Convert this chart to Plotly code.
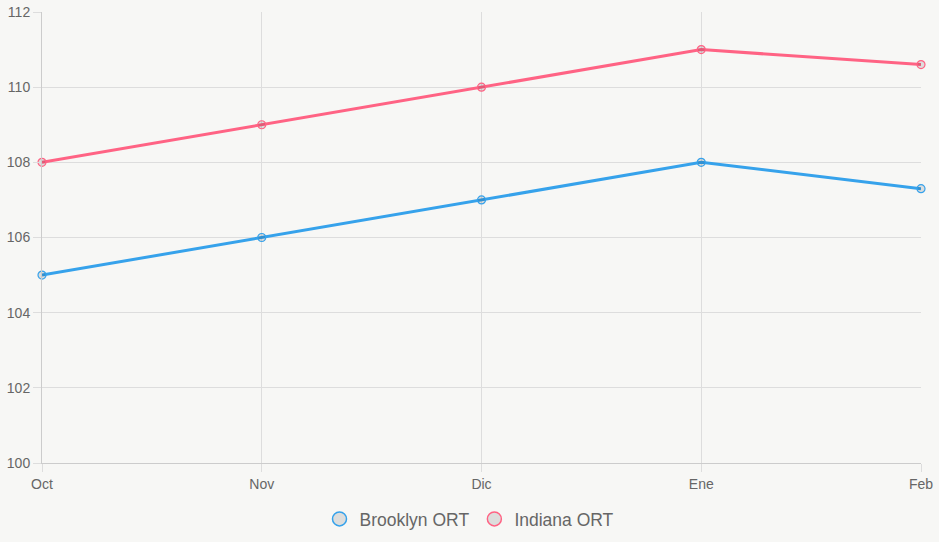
import plotly.graph_objects as go

months = ["Oct", "Nov", "Dic", "Ene", "Feb"]
brooklyn = [105, 106, 107, 108, 107.3]
indiana = [108, 109, 110, 111, 110.6]
series_names = ["Brooklyn ORT", "Indiana ORT"]
colors = ["#36a2eb", "#ff6384"]
y_ticks = [100, 102, 104, 106, 108, 110, 112]

bg = "#f7f7f5"
fig = go.Figure()
for name, vals, c in zip(series_names, [brooklyn, indiana], colors):
    fig.add_trace(go.Scatter(
        x=months, y=vals, mode="lines+markers", name=name, showlegend=False,
        line=dict(color=c, width=3),
        marker=dict(size=8, color="rgba(0,0,0,0.1)", line=dict(color=c, width=1.2)),
        hoverinfo="x+y+name", cliponaxis=False,
    ))
for name, c in zip(series_names, colors):
    fig.add_trace(go.Scatter(
        x=[None], y=[None], mode="markers", name=name,
        marker=dict(size=14, color="rgba(0,0,0,0.1)", line=dict(color=c, width=1.5)),
    ))

fig.update_layout(
    width=939, height=542,
    margin=dict(l=42, r=18, t=12, b=79, autoexpand=False),
    paper_bgcolor=bg, plot_bgcolor=bg,
    font=dict(family="Liberation Sans, Arial, sans-serif", color="#666", size=14),
    legend=dict(orientation="h", xref="container", yref="container",
                x=0.5, xanchor="center", y=1 - 519/542, yanchor="middle",
                font=dict(size=17.5, color="#666"), itemwidth=30, tracegroupgap=0),
    xaxis=dict(
        type="category", range=[0, len(months) - 1], automargin=False,
        showgrid=True, gridcolor="#dddddd", gridwidth=1,
        ticks="outside", ticklen=8, tickcolor="#dddddd",
        showline=True, linecolor="#cccccc", linewidth=1,
        zeroline=False, tickfont=dict(size=14, color="#666"),
    ),
    yaxis=dict(
        range=[100, 112], tickvals=y_ticks, automargin=False,
        showgrid=True, gridcolor="#dddddd", gridwidth=1,
        ticks="outside", ticklen=8, tickcolor="#dddddd",
        showline=True, linecolor="#cccccc", linewidth=1,
        zeroline=False, tickfont=dict(size=14, color="#666"),
    ),
)
fig.write_html("out.html")
